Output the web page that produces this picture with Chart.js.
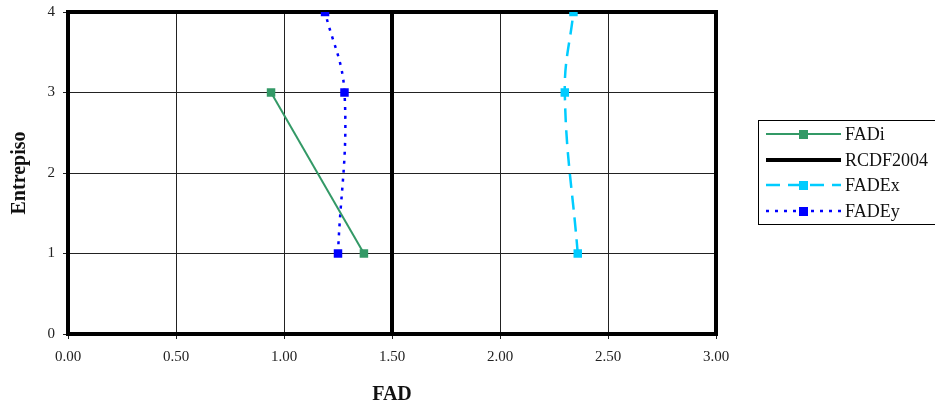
<!DOCTYPE html>
<html>
<head>
<meta charset="utf-8">
<script src="https://cdn.jsdelivr.net/npm/chart.js@4/dist/chart.umd.min.js"></script>
<style>
  html, body { margin: 0; padding: 0; background: #fff; }
  #wrap { width: 935px; height: 412px; }
</style>
</head>
<body>
<div id="wrap"><canvas id="chart"></canvas></div>
<script>
// data (x = FAD, y = Entrepiso)
const fadiX = [1.37, 0.94];
const fadiY = [1, 3];
const rcdfX = [1.5, 1.5];
const rcdfY = [0, 4];
const fadexX = [2.36, 2.30, 2.34];
const fadexY = [1, 3, 4];
const fadeyX = [1.25, 1.28, 1.19];
const fadeyY = [1, 3, 4];
const xTicks = [0, 0.5, 1, 1.5, 2, 2.5, 3];
const yTicks = [0, 1, 2, 3, 4];

const serif = "'Liberation Serif', 'DejaVu Serif', serif";

function pts(xs, ys) {
    return xs.map((x, i) => ({ x: x, y: ys[i] }));
}

// thick frame round the plot area
const framePlugin = {
    id: 'frame',
    beforeDatasetsDraw(chart) {
        const a = chart.chartArea;
        const ctx = chart.ctx;
        ctx.save();
        ctx.strokeStyle = '#000';
        ctx.lineWidth = 4;
        ctx.strokeRect(a.left, a.top, a.right - a.left, a.bottom - a.top);
        ctx.restore();
    }
};

// Excel style legend box on the right
const legendPlugin = {
    id: 'boxLegend',
    afterDraw(chart) {
        const ctx = chart.ctx;
        ctx.save();
        ctx.strokeStyle = '#000';
        ctx.lineWidth = 1;
        ctx.strokeRect(758.5, 120.5, 200, 104);
        const rows = [134, 160, 185, 211];
        chart.data.datasets.forEach((ds, i) => {
            const y = rows[i];
            ctx.strokeStyle = ds.borderColor;
            ctx.lineWidth = ds.borderWidth;
            ctx.setLineDash(ds.borderDash || []);
            ctx.beginPath();
            ctx.moveTo(766, y);
            ctx.lineTo(841, y);
            ctx.stroke();
            ctx.setLineDash([]);
            if (ds.pointRadius > 0) {
                ctx.fillStyle = ds.pointBackgroundColor;
                ctx.fillRect(799, y - 4, 9, 9);
            }
            ctx.fillStyle = '#111';
            ctx.font = '18px ' + serif;
            ctx.textBaseline = 'middle';
            ctx.fillText(ds.label, 845, y + 1);
        });
        ctx.restore();
    }
};

new Chart(document.getElementById('chart'), {
    type: 'scatter',
    data: {
        datasets: [
            {
                label: 'FADi',
                data: pts(fadiX, fadiY),
                showLine: true,
                borderColor: '#339966',
                backgroundColor: '#339966',
                pointBackgroundColor: '#339966',
                borderWidth: 2,
                pointStyle: 'rect',
                pointRadius: 6,
                pointBorderWidth: 0,
                tension: 0
            },
            {
                label: 'RCDF2004',
                data: pts(rcdfX, rcdfY),
                showLine: true,
                borderColor: '#000',
                backgroundColor: '#000',
                pointBackgroundColor: '#000',
                borderWidth: 4,
                pointRadius: 0,
                tension: 0
            },
            {
                label: 'FADEx',
                data: pts(fadexX, fadexY),
                showLine: true,
                borderColor: '#00CCFF',
                backgroundColor: '#00CCFF',
                pointBackgroundColor: '#00CCFF',
                borderWidth: 2.5,
                borderDash: [14, 8],
                pointStyle: 'rect',
                pointRadius: 6,
                pointBorderWidth: 0,
                tension: 0.4
            },
            {
                label: 'FADEy',
                data: pts(fadeyX, fadeyY),
                showLine: true,
                borderColor: '#0000FF',
                backgroundColor: '#0000FF',
                pointBackgroundColor: '#0000FF',
                borderWidth: 2.5,
                borderDash: [3, 6],
                pointStyle: 'rect',
                pointRadius: 6,
                pointBorderWidth: 0,
                tension: 0.4
            }
        ]
    },
    options: {
        responsive: true,
        maintainAspectRatio: false,
        animation: false,
        layout: { padding: { left: 0, right: 219, top: 12, bottom: 0 } },
        plugins: {
            legend: { display: false },
            tooltip: { enabled: false }
        },
        scales: {
            x: {
                type: 'linear',
                min: 0,
                max: 3,
                afterFit(scale) {
                    scale.height = 78;
                    scale.paddingLeft = 0;
                    scale.paddingRight = 0;
                },
                afterBuildTicks(scale) { scale.ticks = xTicks.map(v => ({ value: v })); },
                ticks: {
                    color: '#222',
                    font: { family: serif, size: 15 },
                    padding: 9,
                    maxRotation: 0,
                    callback: v => v.toFixed(2)
                },
                grid: { color: '#222', lineWidth: 1, tickLength: 5 },
                border: { display: false },
                title: {
                    display: true,
                    text: 'FAD',
                    color: '#111',
                    font: { family: serif, size: 20, weight: 'bold' },
                    padding: { top: 0, bottom: 5 }
                }
            },
            y: {
                type: 'linear',
                min: 0,
                max: 4,
                afterFit(scale) {
                    scale.width = 68;
                    scale.paddingTop = 0;
                    scale.paddingBottom = 0;
                },
                afterBuildTicks(scale) { scale.ticks = yTicks.map(v => ({ value: v })); },
                ticks: {
                    color: '#222',
                    font: { family: serif, size: 15 },
                    padding: 8,
                    callback: v => String(v)
                },
                grid: { color: '#222', lineWidth: 1, tickLength: 5 },
                border: { display: false },
                title: {
                    display: true,
                    text: 'Entrepiso',
                    color: '#111',
                    font: { family: serif, size: 20, weight: 'bold' },
                    padding: { top: 8, bottom: 0 }
                }
            }
        }
    },
    plugins: [framePlugin, legendPlugin]
});
</script>
</body>
</html>
